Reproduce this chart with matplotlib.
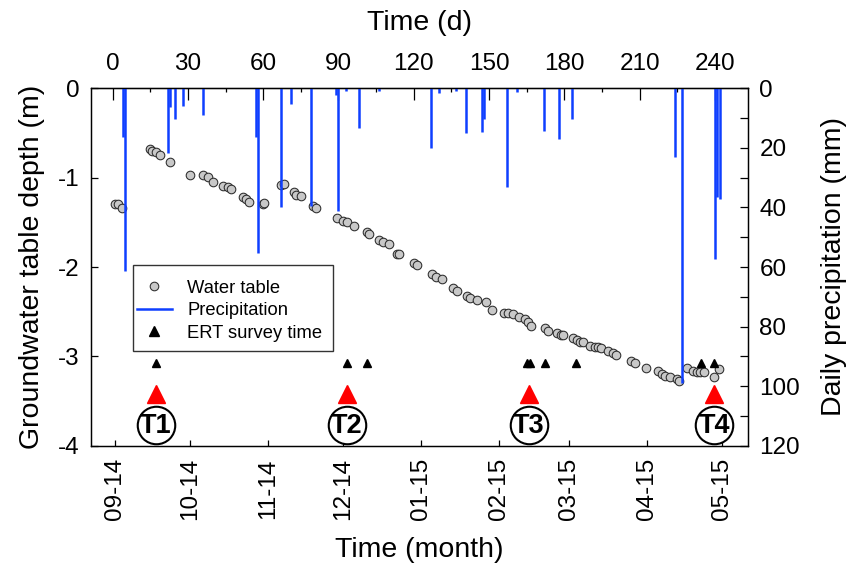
import matplotlib
matplotlib.use("Agg")
import matplotlib.pyplot as plt
from matplotlib.lines import Line2D
from matplotlib.patches import Rectangle
from matplotlib.ticker import MultipleLocator, FixedLocator
import pandas as pd

plt.rcParams['font.family'] = ['Liberation Sans', 'DejaVu Sans']
plt.rcParams['axes.unicode_minus'] = False

# ---- data -------------------------------------------------------------
# day 0 of the monitoring period
start_date = "2014-08-31"

# groundwater table depth (m below surface) vs. elapsed day
wt_day = [1.0, 2.3, 3.9, 14.9, 15.9, 17.1, 18.9, 22.9, 31.0, 35.9, 38.0, 40.2,
          43.9, 45.9, 47.3, 52.1, 53.1, 54.3, 59.8, 60.4, 67.1, 68.3, 72.3, 73.2,
          75.2, 80.0, 81.1, 89.3, 92.0, 93.3, 96.2, 101.3, 102.2, 106.2, 107.9,
          110.2, 113.5, 114.3, 120.2, 121.4, 127.4, 128.8, 131.2, 135.8, 137.1,
          141.1, 142.4, 145.1, 148.8, 151.1, 156.0, 157.7, 159.4, 162.0, 164.3,
          165.7, 166.6, 172.3, 173.6, 177.2, 178.6, 179.6, 183.4, 185.2, 186.3,
          187.6, 190.2, 192.2, 193.3, 194.6, 197.5, 199.5, 200.6, 206.5, 208.2,
          212.4, 217.5, 218.8, 220.1, 222.1, 225.0, 225.8, 228.8, 231.4, 232.7,
          234.1, 235.7, 239.8, 241.6]
wt_depth = [-1.295, -1.295, -1.336, -0.683, -0.698, -0.713, -0.743, -0.821,
            -0.967, -0.974, -0.996, -1.052, -1.093, -1.101, -1.130, -1.213,
            -1.242, -1.276, -1.295, -1.284, -1.079, -1.068, -1.164, -1.191,
            -1.205, -1.317, -1.343, -1.455, -1.485, -1.500, -1.538, -1.612,
            -1.634, -1.698, -1.724, -1.743, -1.855, -1.851, -1.952, -1.978,
            -2.078, -2.109, -2.138, -2.238, -2.265, -2.324, -2.350, -2.372,
            -2.395, -2.481, -2.511, -2.518, -2.526, -2.556, -2.585, -2.612,
            -2.660, -2.686, -2.713, -2.735, -2.761, -2.758, -2.791, -2.817,
            -2.836, -2.836, -2.884, -2.899, -2.899, -2.910, -2.937, -2.966,
            -2.985, -3.052, -3.078, -3.127, -3.161, -3.198, -3.220, -3.234,
            -3.254, -3.273, -3.134, -3.164, -3.175, -3.175, -3.179, -3.228,
            -3.138]

# daily precipitation (mm)
rain_day = [4, 5, 22, 23, 25, 28, 36, 57, 58, 67, 71, 79, 89, 90, 93, 98, 106,
            127, 130, 137, 141, 147, 148, 157, 161, 172, 178, 183, 224, 227,
            240, 241, 242]
rain_mm = [16.2, 61.5, 21.8, 6.4, 10.4, 5.8, 9.0, 16.2, 55.3, 39.7, 5.3, 39.5,
           2.2, 41.1, 0.8, 13.4, 1.0, 20.1, 1.7, 1.0, 14.9, 14.6, 10.4, 33.3,
           1.1, 14.3, 17.0, 10.4, 22.9, 98.8, 57.3, 36.5, 37.1]

# ERT survey days, and the four main surveys T1-T4
ert_day = [17.2, 93.3, 101.5, 165.3, 166.3, 172.4, 184.7, 234.5, 239.7]
main_survey_day = [17.2, 93.3, 165.8, 239.7]
main_survey_label = ["T1", "T2", "T3", "T4"]

# axis ticks
month_dates = ["2014-09-01", "2014-10-01", "2014-11-01", "2014-12-01",
               "2015-01-01", "2015-02-01", "2015-03-01", "2015-04-01",
               "2015-05-01"]
month_labels = ["09-14", "10-14", "11-14", "12-14", "01-15", "02-15", "03-15",
                "04-15", "05-15"]
day_ticks = [0, 30, 60, 90, 120, 150, 180, 210, 240]
depth_ticks = [0, -1, -2, -3, -4]

# ---- figure -----------------------------------------------------------
blue = "#0f3fff"
grey_fill = "#c8c8c8"
edge = "#2b2b2b"
tick_fs = 17.5
label_fs = 20.5

fig = plt.figure(figsize=(8.51, 5.66), dpi=100)
W, H = 851, 566
ax = fig.add_axes([91 / W, 1 - 445.7 / H, (748.3 - 91) / W, (445.7 - 88.3) / H])

ax.plot(wt_day, wt_depth, ls="none", marker="o", ms=6.2, mfc=grey_fill,
        mec=edge, mew=0.75, zorder=3)

ert_level = -3.07
ax.plot(ert_day, [ert_level] * len(ert_day), ls="none", marker="^", ms=5.2,
        color="black", zorder=3)
ax.plot(main_survey_day, [-3.42] * len(main_survey_day), ls="none", marker="^",
        ms=13, color="red", mec="red", zorder=3)
ax.plot(main_survey_day, [-3.77] * len(main_survey_day), ls="none", marker="o",
        ms=27, mfc="white", mec="black", mew=1.5, zorder=3)
for d, lab in zip(main_survey_day, main_survey_label):
    ax.text(d, -3.775, lab, ha="center", va="center", fontsize=19.5,
            fontweight="bold", zorder=4)

ax.set_xlim(-8.6, 253.3)
ax.set_ylim(-4, 0)

start = pd.Timestamp(start_date)
month_days = [(pd.Timestamp(m) - start).days for m in month_dates]
ax.set_xticks(month_days, month_labels, rotation=90)
ax.set_yticks(depth_ticks, [str(t) for t in depth_ticks])
ax.tick_params(axis="x", direction="in", length=4.3, width=0.9, pad=9,
               labelsize=tick_fs)
ax.tick_params(axis="y", direction="in", length=5, width=0.9, pad=8,
               labelsize=tick_fs)
ax.set_xlabel("Time (month)", fontsize=label_fs, labelpad=12)
ax.set_ylabel("Groundwater table depth (m)", fontsize=label_fs, labelpad=9.5)

# elapsed days on the top axis
top = ax.secondary_xaxis("top")
top.set_xticks(day_ticks, [str(t) for t in day_ticks])
top.xaxis.set_minor_locator(FixedLocator([t + 15 for t in day_ticks[:-1]]))
top.tick_params(which="major", direction="in", length=8.5, width=0.9, pad=9.5,
                labelsize=tick_fs)
top.tick_params(which="minor", direction="in", length=3, width=0.9)
top.set_xlabel("Time (d)", fontsize=label_fs, labelpad=16.5)

# precipitation on the right axis, hanging from the top
ax2 = ax.twinx()
ax2.vlines(rain_day, 0, rain_mm, colors=blue, lw=1.8, zorder=2)
ax2.set_ylim(120, 0)
ax2.yaxis.set_major_locator(MultipleLocator(20))
ax2.yaxis.set_minor_locator(MultipleLocator(10))
ax2.tick_params(which="both", direction="in", length=5.8, width=0.9, pad=8,
                labelsize=tick_fs)
ax2.set_ylabel("Daily precipitation (mm)", fontsize=label_fs, labelpad=15)

for a in (ax, ax2):
    for s in a.spines.values():
        s.set_linewidth(0.9)

# legend: square white box with the entries placed inside it
box_x0, box_y0, box_w, box_h = 0.0634, 0.265, 0.305, 0.241
ax2.add_patch(Rectangle((box_x0, box_y0), box_w, box_h, transform=ax2.transAxes,
                        facecolor="white", edgecolor="#333333", lw=1.0,
                        zorder=4.5))
handles = [
    Line2D([], [], ls="none", marker="o", ms=6.2, mfc=grey_fill, mec=edge,
           mew=0.75),
    Line2D([], [], color=blue, lw=1.8),
    Line2D([], [], ls="none", marker="^", ms=7.5, color="black"),
]
leg = ax2.legend(handles, ["Water table", "Precipitation", "ERT survey time"],
                 loc="upper left", bbox_to_anchor=(0.070, 0.464),
                 borderaxespad=0, fontsize=13.2, frameon=False,
                 handlelength=1.9, handletextpad=0.85, labelspacing=0.3,
                 borderpad=0)
leg.set_zorder(5)

fig.savefig("out.png", dpi=100)
